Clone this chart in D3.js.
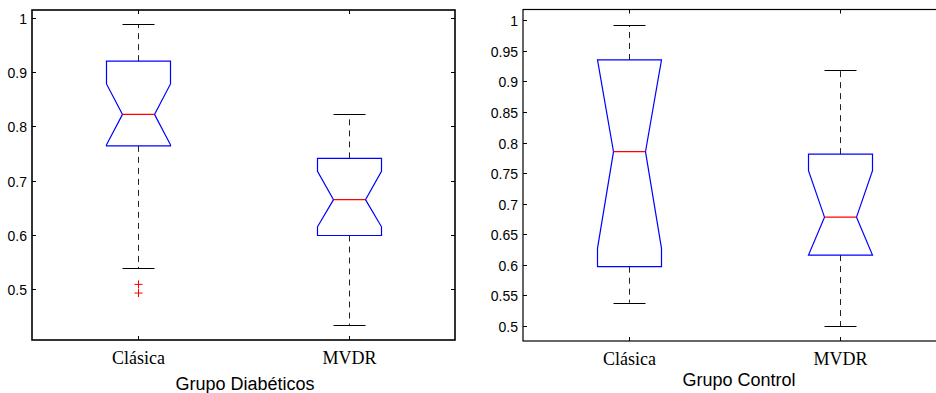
<!DOCTYPE html>
<html>
<head>
<meta charset="utf-8">
<script src="https://cdn.jsdelivr.net/npm/d3@7"></script>
<style>
  body { margin: 0; background: #fff; }
  svg { display: block; }
</style>
</head>
<body>
<svg width="936" height="393"></svg>
<script>
const svg = d3.select("svg");

// ====== Data ======
const categories = ["Clásica", "MVDR"];

// Grupo Diabéticos
const diabWhiskLo = [0.539, 0.434];
const diabQ1      = [0.764, 0.599];
const diabNotchLo = [0.766, 0.615];
const diabMedian  = [0.822, 0.665];
const diabNotchHi = [0.878, 0.717];
const diabQ3      = [0.920, 0.741];
const diabWhiskHi = [0.988, 0.822];
const diabOutliers = [[0.509, 0.493], []];
const diabTicks = [0.5, 0.6, 0.7, 0.8, 0.9, 1];

// Grupo Control
const ctrlWhiskLo = [0.538, 0.500];
const ctrlQ1      = [0.597, 0.616];
const ctrlNotchLo = [0.627, 0.616];
const ctrlMedian  = [0.785, 0.678];
const ctrlNotchHi = [0.935, 0.754];
const ctrlQ3      = [0.935, 0.781];
const ctrlWhiskHi = [0.992, 0.918];
const ctrlOutliers = [[], []];
const ctrlTicks = [0.5, 0.55, 0.6, 0.65, 0.7, 0.75, 0.8, 0.85, 0.9, 0.95, 1];

function panel(opt) {
    const x = d3.scaleLinear().domain([0.5, 2.5]).range([opt.left, opt.right]);
    const y = d3.scaleLinear().domain(opt.ydom).range([opt.bottom, opt.top]);
    const g = svg.append("g");

    // frame
    g.append("rect")
        .attr("x", opt.left).attr("y", opt.top)
        .attr("width", opt.right - opt.left).attr("height", opt.bottom - opt.top)
        .attr("fill", "none").attr("stroke", "#000").attr("stroke-width", opt.frame);

    // y ticks (inside, both sides)
    opt.ticks.forEach(t => {
        const yy = Math.round(y(t)) + 0.5;
        g.append("line").attr("x1", opt.left).attr("x2", opt.left + 4)
            .attr("y1", yy).attr("y2", yy).attr("stroke", "#000");
        g.append("line").attr("x1", opt.right).attr("x2", opt.right - 4)
            .attr("y1", yy).attr("y2", yy).attr("stroke", "#000");
        g.append("text").attr("x", opt.left - 5).attr("y", yy + 5)
            .attr("text-anchor", "end")
            .attr("font-family", "Liberation Sans, Arial, sans-serif")
            .attr("font-size", 14).text(t);
    });

    categories.forEach((c, i) => {
        const cx = Math.round(x(i + 1)) + 0.5;
        const hw = 32, nw = 16, cw = 16;
        // x ticks top and bottom
        g.append("line").attr("x1", cx).attr("x2", cx).attr("y1", opt.top).attr("y2", opt.top + 4).attr("stroke", "#000");
        g.append("line").attr("x1", cx).attr("x2", cx).attr("y1", opt.bottom).attr("y2", opt.bottom - 4).attr("stroke", "#000");
        g.append("text").attr("x", cx).attr("y", opt.bottom + 24)
            .attr("text-anchor", "middle")
            .attr("font-family", "Liberation Serif, Times New Roman, serif")
            .attr("font-size", 18).text(c);

        // whiskers
        g.append("line").attr("x1", cx).attr("x2", cx)
            .attr("y1", y(opt.q3[i])).attr("y2", y(opt.whHi[i]))
            .attr("stroke", "#222").attr("stroke-dasharray", "6,5");
        g.append("line").attr("x1", cx).attr("x2", cx)
            .attr("y1", y(opt.q1[i])).attr("y2", y(opt.whLo[i]))
            .attr("stroke", "#222").attr("stroke-dasharray", "6,5");
        [opt.whHi[i], opt.whLo[i]].forEach(v => {
            g.append("line").attr("x1", cx - cw).attr("x2", cx + cw)
                .attr("y1", Math.round(y(v)) + 0.5).attr("y2", Math.round(y(v)) + 0.5)
                .attr("stroke", "#000");
        });

        // notched box
        const pts = [
            [cx - hw, y(opt.q3[i])], [cx - hw, y(opt.nHi[i])], [cx - nw, y(opt.med[i])],
            [cx - hw, y(opt.nLo[i])], [cx - hw, y(opt.q1[i])], [cx + hw, y(opt.q1[i])],
            [cx + hw, y(opt.nLo[i])], [cx + nw, y(opt.med[i])], [cx + hw, y(opt.nHi[i])],
            [cx + hw, y(opt.q3[i])]
        ];
        g.append("path").attr("d", d3.line()(pts) + "Z")
            .attr("fill", "none").attr("stroke", "#0000ff").attr("stroke-width", 1.2);
        g.append("line").attr("x1", cx - nw).attr("x2", cx + nw)
            .attr("y1", y(opt.med[i])).attr("y2", y(opt.med[i]))
            .attr("stroke", "#ff0000").attr("stroke-width", 1.2);

        // outliers
        opt.out[i].forEach(v => {
            const oy = y(v);
            g.append("path").attr("d", `M${cx - 4},${oy}H${cx + 4}M${cx},${oy - 4}V${oy + 4}`)
                .attr("stroke", "#ff0000").attr("fill", "none");
        });
    });

    g.append("text").attr("x", opt.titleX).attr("y", opt.titleY)
        .attr("text-anchor", "middle")
        .attr("font-family", "Liberation Sans, Arial, sans-serif")
        .attr("font-size", 18).text(opt.title);
}

panel({
    left: 32, right: 455, top: 10, bottom: 340, frame: 1.6,
    ydom: [0.4066, 1.0142], ticks: diabTicks,
    whLo: diabWhiskLo, q1: diabQ1, nLo: diabNotchLo, med: diabMedian,
    nHi: diabNotchHi, q3: diabQ3, whHi: diabWhiskHi, out: diabOutliers,
    title: "Grupo Diabéticos", titleX: 245, titleY: 390
});

panel({
    left: 523, right: 946, top: 9.5, bottom: 341, frame: 1.2,
    ydom: [0.4755, 1.0175], ticks: ctrlTicks,
    whLo: ctrlWhiskLo, q1: ctrlQ1, nLo: ctrlNotchLo, med: ctrlMedian,
    nHi: ctrlNotchHi, q3: ctrlQ3, whHi: ctrlWhiskHi, out: ctrlOutliers,
    title: "Grupo Control", titleX: 739, titleY: 386
});
</script>
</body>
</html>
